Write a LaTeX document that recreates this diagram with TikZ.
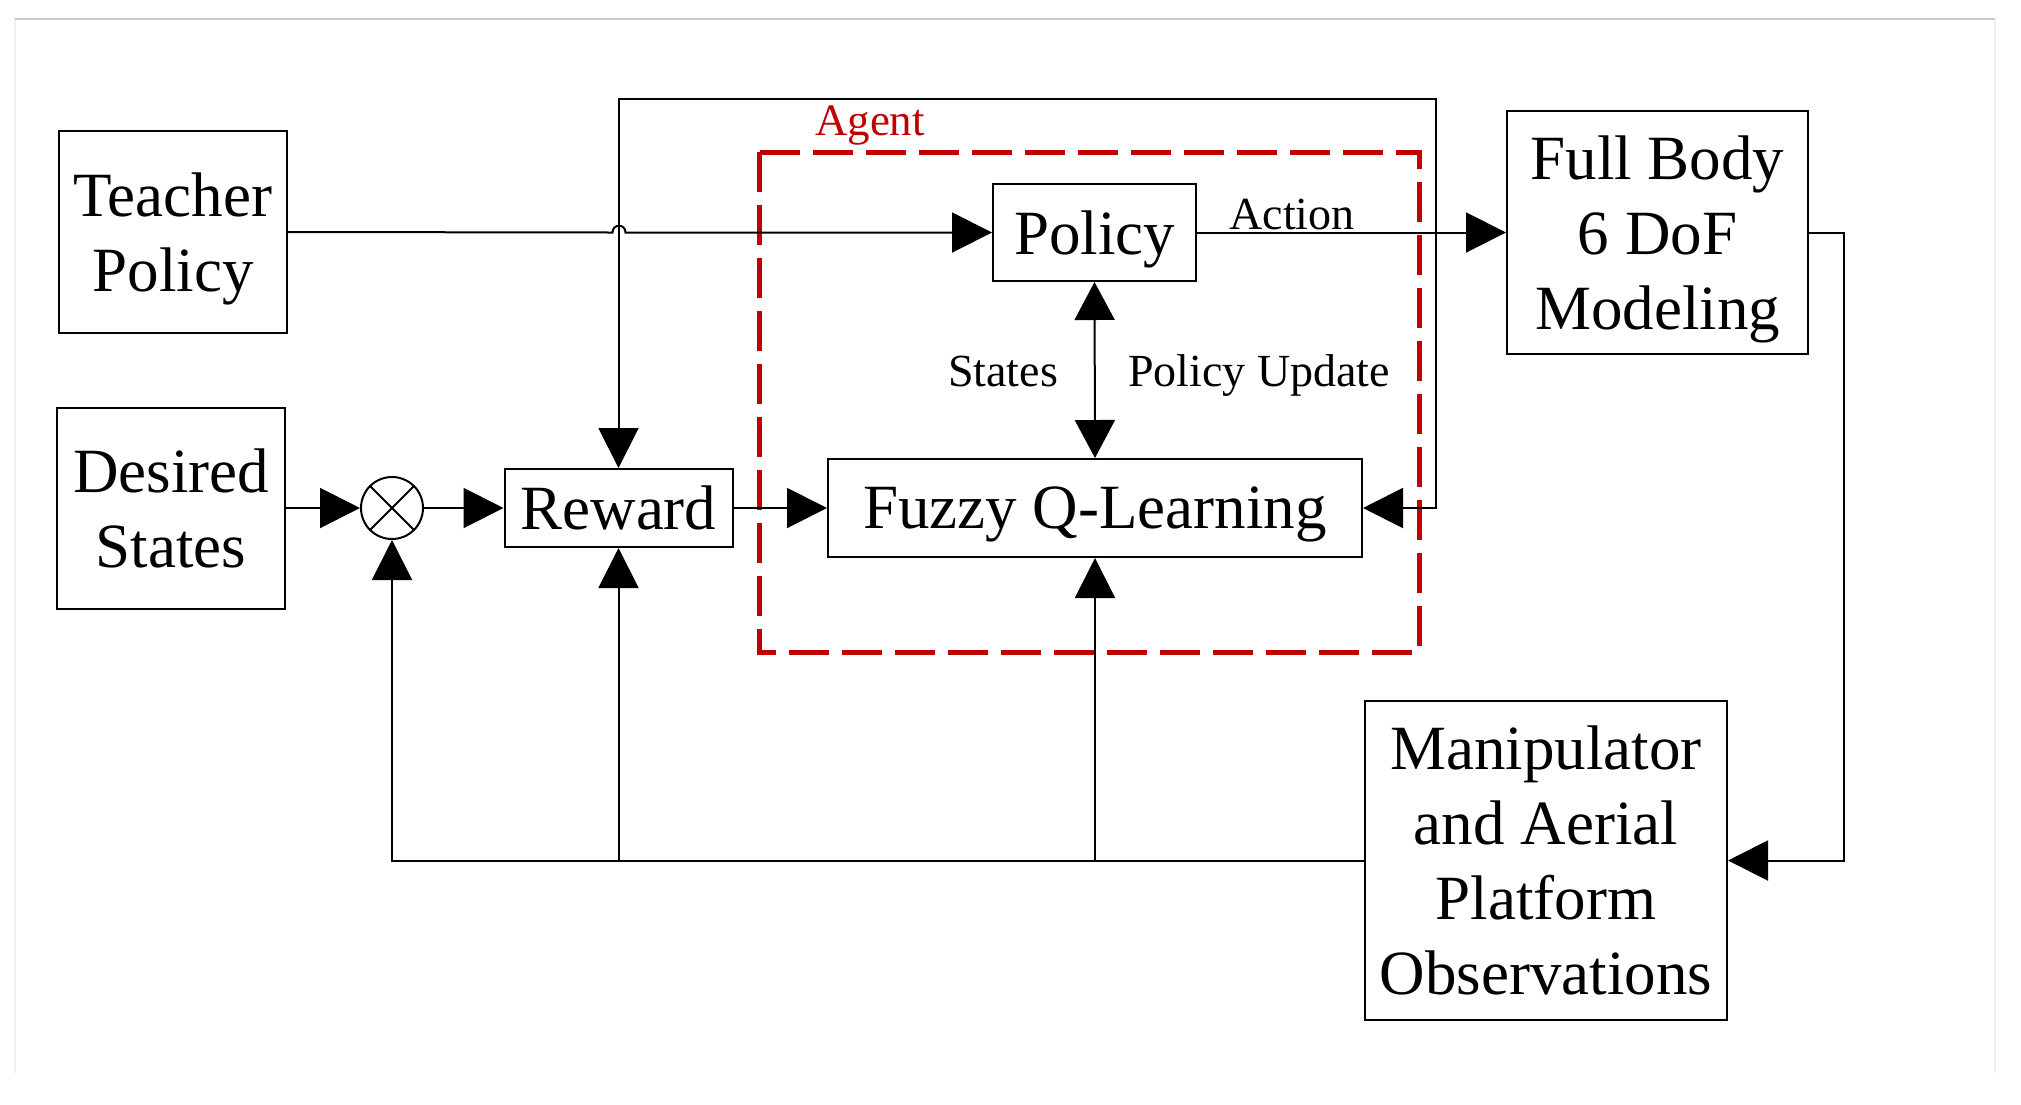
\documentclass[tikz,border=0pt]{standalone}
\usepackage{fontspec}
\setmainfont{Liberation Serif}
\usetikzlibrary{arrows.meta,calc}
\definecolor{agentred}{HTML}{C00000}
\definecolor{framegray}{HTML}{C8C8C8}
\definecolor{framefaint}{HTML}{EEF0F8}
\tikzset{
  box/.style={draw, line width=2pt, inner sep=0pt, align=center, text depth=0pt,
    font=\fontsize{63}{75}\selectfont},
  lbl/.style={inner sep=0pt, font=\fontsize{46}{55}\selectfont},
  conn/.style={line width=2pt},
  arr/.style={conn, -{Triangle[length=40pt,width=40pt]}},
  darr/.style={conn, {Triangle[length=38pt,width=40pt]}-{Triangle[length=38pt,width=40pt]}},
  agentbox/.style={draw=agentred, line width=5pt, dash pattern=on 40pt off 13pt},
}
\begin{document}
\begin{tikzpicture}[x=1pt,y=-1pt]
\useasboundingbox (0,0) rectangle (2021,1104);
% frame
\draw[framefaint, line width=2pt] (15,19) -- (15,1073) (1995,19) -- (1995,1073);
\draw[framegray, line width=2pt] (15,19) -- (1995,19);

% agent box
\draw[agentbox] (759,152) rectangle (1419,652);
\node[lbl, text=agentred, font=\fontsize{45}{54}\selectfont] (agent) at (870,125) {Agent};

% nodes
\node[box, minimum width=228pt, minimum height=202pt] (tp) at (173,232) {Teacher\\Policy};
\node[box, minimum width=228pt, minimum height=201pt] (ds) at (171,508) {Desired\\States};
\node[draw, circle, line width=2pt, minimum size=62pt, inner sep=0pt] (sum) at (392,508) {};
\draw[conn] (sum.north east) -- (sum.south west) (sum.north west) -- (sum.south east);
\node[box, minimum width=228pt, minimum height=78pt] (rew) at (618.5,508) {Reward};
\node[box, minimum width=534pt, minimum height=98pt] (fq) at (1095,508) {Fuzzy Q-Learning};
\node[box, minimum width=203pt, minimum height=97pt] (pol) at (1094.5,232.5) {Policy};
\node[box, minimum width=301pt, minimum height=243pt] (fb) at (1657.5,232.5) {Full Body\\6 DoF\\Modeling};
\node[box, minimum width=362pt, minimum height=319pt] (man) at (1546,860.5) {Manipulator\\and Aerial\\Platform\\Observations};

% labels
\node[lbl] (act) at (1292,214) {Action};
\node[lbl] (st) at (1003,371) {States};
\node[lbl] (pu) at (1259,375) {Policy Update};

% connectors
\coordinate (tr) at (1436,99);
\coordinate (hopL) at (612.5,232.5);
\coordinate (hopR) at (625.5,232.5);
\draw[arr] (tp.east) -- (hopL) .. controls (612.5,223.5) and (625.5,223.5) .. (hopR) -- (pol.west);
\draw[arr] (pol.east) -- (fb.west);
\draw[arr] (fb.east) -- ++(35,0) |- (man.east);
\draw[arr] (man.west) -| (sum.south);
\draw[arr] (rew.south |- man.west) -- (rew.south);
\draw[arr] (fq.south |- man.west) -- (fq.south);
\draw[arr] (ds.east) -- (sum.west);
\draw[arr] (sum.east) -- (rew.west);
\draw[arr] (rew.east) -- (fq.west);
\draw[conn, {Triangle[length=40pt,width=40pt]}-{Triangle[length=40pt,width=40pt]}] (rew.north) |- (tr) |- (fq.east);
\draw[darr] (pol.south) -- (fq.north);
\end{tikzpicture}
\end{document}
